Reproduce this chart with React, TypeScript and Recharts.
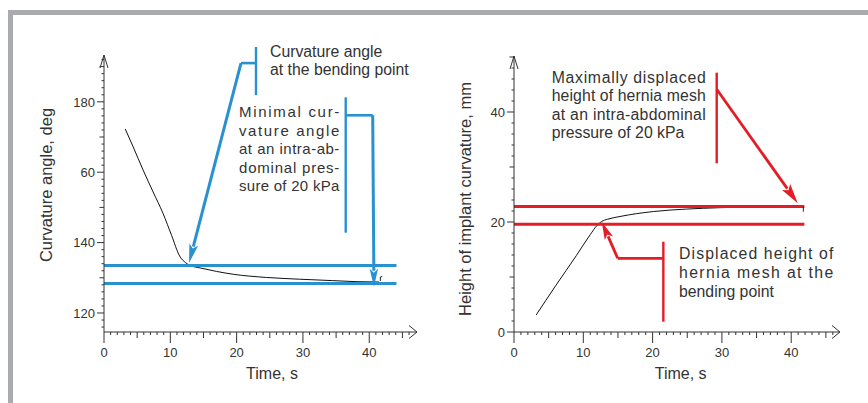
import React from 'react';
import { LineChart, Line, XAxis, YAxis, ReferenceLine, ReferenceDot, Label } from 'recharts';

// ---------- data ----------
const leftTime = [3.2, 4.4, 5.9, 7.4, 8.9, 10.2, 11.4, 12.3, 13, 14.5, 17, 19.5, 24.5, 29.5, 34.5, 38, 41.5];
const leftAngle = [172.3, 167.2, 160.6, 154.4, 148.3, 142, 136.2, 134.3, 133.5, 132.8, 131.8, 131, 130.1, 129.6, 129.2, 128.9, 128.8];
const rightTime = [3.2, 6, 9, 11, 12, 12.65, 13.5, 15.3, 20.1, 24.9, 29.7, 36.9, 41.8];
const rightHeight = [3.1, 8.4, 13.9, 17.7, 19.4, 20.1, 20.5, 21.0, 21.9, 22.35, 22.6, 22.8, 22.85];

const leftBands = [133.5, 128.4];
const leftBandEnd = 44.1;
const rightBands = [22.8, 19.6];
const rightBandEnd = 41.9;

const xTickValues = [0, 10, 20, 30, 40];
const xTickLabels = ['0', '10', '20', '30', '40'];
const leftYTickValues = [120, 140, 160, 180];
const leftYTickLabels = ['120', '140', '60', '180'];
const rightYTickValues = [0, 20, 40];
const rightYTickLabels = ['0', '20', '40'];

const leftTitleY = 'Curvature angle, deg';
const rightTitleY = 'Height of implant curvature, mm';
const titleX = 'Time, s';

const leftNote1 = ['Curvature angle', 'at the bending point'];
const leftNote2 = ['Minimal cur-', 'vature angle', 'at an intra-ab-', 'dominal pres-', 'sure of 20 kPa'];
const rightNote1 = ['Maximally displaced', 'height of hernia mesh', 'at an intra-abdominal', 'pressure of 20 kPa'];
const rightNote2 = ['Displaced height of', 'hernia mesh at the', 'bending point'];

// ---------- styles ----------
const BLUE = '#2a91d0';
const RED = '#e31d25';
const INK = '#333333';
const FONT = '"Liberation Sans", Arial, Helvetica, sans-serif';
const TICKFONT = '"Liberation Sans", Arial, sans-serif';

const leftXDomain: [number, number] = [0, 47.2];
const leftYDomain: [number, number] = [114.6, 193.3];
const rightXDomain: [number, number] = [0, 47.04];
const rightYDomain: [number, number] = [0, 50.18];

const range = (a: number, b: number, s: number) => {
  const out: number[] = [];
  for (let v = a; v <= b + 1e-9; v += s) out.push(Math.round(v * 100) / 100);
  return out;
};
const xMinorTicks = range(0, 46, 1);
const leftYMinorTicks = range(116, 192, 2);
const rightYMinorTicks = range(0, 50, 2);

const makeXTick = (values: number[], labels: string[]) => (props: any) => {
  const { x, y, payload } = props;
  const v = payload.value;
  const len = v % 10 === 0 ? 11 : v % 5 === 0 ? 6 : 3;
  const idx = values.indexOf(v);
  return (
    <g>
      <line x1={x} y1={y} x2={x} y2={y + len} stroke={INK} strokeWidth={1} />
      {idx >= 0 && (
        <text x={x} y={y + 25} textAnchor="middle" fontSize={13} fontFamily={TICKFONT} fill={INK}>
          {labels[idx]}
        </text>
      )}
    </g>
  );
};

const makeYTick = (values: number[], labels: string[], major: number, mid: number) => (props: any) => {
  const { x, y, payload } = props;
  const v = payload.value;
  const len = v % major === 0 ? 7 : v % mid === 0 ? 4.5 : 2.5;
  const idx = values.indexOf(v);
  return (
    <g>
      <line x1={x} y1={y} x2={x - len} y2={y} stroke={INK} strokeWidth={1} />
      {idx >= 0 && (
        <text x={x - 9} y={y + 4.7} textAnchor="end" fontSize={13} fontFamily={TICKFONT} fill={INK}>
          {labels[idx]}
        </text>
      )}
    </g>
  );
};

const arrowShape = (color: string, width: number, headLen: number, headHalf: number) => (p: any) => {
  const { x1, y1, x2, y2 } = p;
  const dx = x2 - x1;
  const dy = y2 - y1;
  const L = Math.hypot(dx, dy) || 1;
  const ux = dx / L;
  const uy = dy / L;
  const bx = x2 - ux * headLen;
  const by = y2 - uy * headLen;
  const px = -uy;
  const py = ux;
  return (
    <g>
      <line x1={x1} y1={y1} x2={bx + ux * 2} y2={by + uy * 2} stroke={color} strokeWidth={width} strokeLinecap="butt" />
      <polygon
        points={`${x2},${y2} ${bx + px * headHalf},${by + py * headHalf} ${bx + ux * 4},${by + uy * 4} ${bx - px * headHalf},${by - py * headHalf}`}
        fill={color}
      />
    </g>
  );
};

const lineShape = (color: string, width: number) => (p: any) => (
  <line x1={p.x1} y1={p.y1} x2={p.x2} y2={p.y2} stroke={color} strokeWidth={width} />
);

const upChevron = (p: any) => (
  <path d={`M${p.cx - 4},${p.cy + 13} L${p.cx},${p.cy} L${p.cx + 4},${p.cy + 13}`} fill="none" stroke={INK} strokeWidth={1} />
);
const rightChevron = (p: any) => (
  <path d={`M${p.cx - 8},${p.cy - 6.5} L${p.cx},${p.cy} L${p.cx - 8},${p.cy + 6.5}`} fill="none" stroke={INK} strokeWidth={1} />
);

const textShape = (lines: string[], justified: boolean[], width: number, size: number, lh: number) => (p: any) => (
  <g>
    {lines.map((s, i) => (
      <text
        key={i}
        x={p.cx}
        y={p.cy + i * lh}
        fontSize={size}
        fontFamily={FONT}
        fill={INK}
        {...(justified[i] ? { textLength: width, lengthAdjust: 'spacing' } : {})}
      >
        {s}
      </text>
    ))}
  </g>
);

const xTitle = (dx: number) => (p: any) => {
  const vb = p.viewBox;
  return (
    <text x={vb.x + vb.width / 2 + dx} y={vb.y + 46.5} textAnchor="middle" fontSize={16} fontFamily={FONT} fill={INK}>
      {titleX}
    </text>
  );
};
const yTitle = (text: string, bx: number, dy: number, size: number) => (p: any) => {
  const vb = p.viewBox;
  const cx = vb.x + bx;
  const cy = vb.y + vb.height / 2 + dy;
  return (
    <text x={cx} y={cy} transform={`rotate(-90, ${cx}, ${cy})`} textAnchor="middle" fontSize={size} fontFamily={FONT} fill={INK}>
      {text}
    </text>
  );
};

const leftData = leftTime.map((t, i) => ({ t, v: leftAngle[i] }));
const rightData = rightTime.map((t, i) => ({ t, v: rightHeight[i] }));

function LeftChart() {
  return (
    <LineChart width={434} height={403} data={leftData} margin={{ top: 55, right: 17, bottom: 41, left: 44 }}>
      <XAxis
        dataKey="t"
        type="number"
        domain={leftXDomain}
        allowDataOverflow
        ticks={xMinorTicks}
        interval={0}
        tickSize={0}
        tickMargin={0}
        tickLine={false}
        tick={makeXTick(xTickValues, xTickLabels)}
        axisLine={{ stroke: INK, strokeWidth: 1 }}
        height={30}
      >
        <Label content={xTitle(11.5)} />
      </XAxis>
      <YAxis
        type="number"
        domain={leftYDomain}
        allowDataOverflow
        ticks={leftYMinorTicks}
        interval={0}
        tickSize={0}
        tickMargin={0}
        tickLine={false}
        tick={makeYTick(leftYTickValues, leftYTickLabels, 20, 10)}
        axisLine={{ stroke: INK, strokeWidth: 1 }}
        width={60}
      >
        <Label content={yTitle(leftTitleY, 8, -8.5, 16.5)} />
      </YAxis>
      <Line dataKey="v" type="monotone" stroke="#111" strokeWidth={1} dot={false} isAnimationActive={false} />
      {leftBands.map((b, i) => (
        <ReferenceLine key={i} segment={[{ x: 0, y: b }, { x: leftBandEnd, y: b }]} ifOverflow="visible" shape={lineShape(BLUE, 3)} />
      ))}
      <ReferenceLine segment={[{ x: 41.67, y: 129.09 }, { x: 41.67, y: 130.23 }]} ifOverflow="visible" shape={lineShape('#222', 1)} />
      <ReferenceLine segment={[{ x: 41.67, y: 130.23 }, { x: 41.95, y: 130.35 }]} ifOverflow="visible" shape={lineShape('#222', 1)} />
      {/* callout 1 */}
      <ReferenceLine segment={[{ x: 22.92, y: 195.6 }, { x: 22.92, y: 181.9 }]} ifOverflow="visible" shape={lineShape(BLUE, 2.4)} />
      <ReferenceLine segment={[{ x: 20.66, y: 191.0 }, { x: 22.92, y: 191.0 }]} ifOverflow="visible" shape={lineShape(BLUE, 2.6)} />
      <ReferenceLine segment={[{ x: 20.66, y: 191.0 }, { x: 12.82, y: 134.2 }]} ifOverflow="visible" shape={arrowShape(BLUE, 3, 19, 4.5)} />
      {/* callout 2 */}
      <ReferenceLine segment={[{ x: 36.45, y: 181.28 }, { x: 36.45, y: 142.81 }]} ifOverflow="visible" shape={lineShape(BLUE, 2.4)} />
      <ReferenceLine segment={[{ x: 36.45, y: 176.17 }, { x: 40.52, y: 176.17 }]} ifOverflow="visible" shape={lineShape(BLUE, 2.6)} />
      <ReferenceLine segment={[{ x: 40.52, y: 176.17 }, { x: 40.71, y: 127.47 }]} ifOverflow="visible" shape={arrowShape(BLUE, 3, 18, 4.2)} />
      <ReferenceDot x={25.03} y={192.65} r={0} ifOverflow="visible" shape={textShape(leftNote1, [false, false], 0, 15.8, 17.7)} />
      <ReferenceDot
        x={20.36}
        y={175.6}
        r={0}
        ifOverflow="visible"
        shape={textShape(leftNote2, [true, true, true, true, true], 100.3, 15, 18.45)}
      />
      <ReferenceDot x={leftXDomain[0]} y={leftYDomain[1]} r={0} ifOverflow="visible" shape={upChevron} />
      <ReferenceDot x={leftXDomain[1]} y={leftYDomain[0]} r={0} ifOverflow="visible" shape={rightChevron} />
    </LineChart>
  );
}

function RightChart() {
  return (
    <LineChart width={434} height={403} data={rightData} margin={{ top: 56, right: 28, bottom: 41, left: 20 }}>
      <XAxis
        dataKey="t"
        type="number"
        domain={rightXDomain}
        allowDataOverflow
        ticks={xMinorTicks}
        interval={0}
        tickSize={0}
        tickMargin={0}
        tickLine={false}
        tick={makeXTick(xTickValues, xTickLabels)}
        axisLine={{ stroke: INK, strokeWidth: 1 }}
        height={30}
      >
        <Label content={xTitle(3.7)} />
      </XAxis>
      <YAxis
        type="number"
        domain={rightYDomain}
        allowDataOverflow
        ticks={rightYMinorTicks}
        interval={0}
        tickSize={0}
        tickMargin={0}
        tickLine={false}
        tick={makeYTick(rightYTickValues, rightYTickLabels, 20, 10)}
        axisLine={{ stroke: INK, strokeWidth: 1 }}
        width={60}
      >
        <Label content={yTitle(rightTitleY, 17, 5, 16.5)} />
      </YAxis>
      <Line dataKey="v" type="monotone" stroke="#111" strokeWidth={1} dot={false} isAnimationActive={false} />
      {rightBands.map((b, i) => (
        <ReferenceLine key={i} segment={[{ x: 0, y: b }, { x: rightBandEnd, y: b }]} ifOverflow="visible" shape={lineShape(RED, 3)} />
      ))}
      <ReferenceLine segment={[{ x: 41.75, y: 22.78 }, { x: 41.75, y: 21.87 }]} ifOverflow="visible" shape={lineShape('#222', 1)} />
      {/* callout 1 */}
      <ReferenceLine segment={[{ x: 29.25, y: 47.15 }, { x: 29.25, y: 30.67 }]} ifOverflow="visible" shape={lineShape(RED, 2.4)} />
      <ReferenceLine segment={[{ x: 29.25, y: 44.13 }, { x: 40.94, y: 23.4 }]} ifOverflow="visible" shape={arrowShape(RED, 2.8, 20, 5)} />
      {/* callout 2 */}
      <ReferenceLine segment={[{ x: 21.55, y: 16.42 }, { x: 21.55, y: 1.87 }]} ifOverflow="visible" shape={lineShape(RED, 2.4)} />
      <ReferenceLine segment={[{ x: 21.55, y: 13.4 }, { x: 14.96, y: 13.4 }]} ifOverflow="visible" shape={lineShape(RED, 2.8)} />
      <ReferenceLine segment={[{ x: 14.96, y: 13.4 }, { x: 12.66, y: 20.05 }]} ifOverflow="visible" shape={arrowShape(RED, 2.8, 18, 4.5)} />
      <ReferenceDot
        x={5.44}
        y={45.36}
        r={0}
        ifOverflow="visible"
        shape={textShape(rightNote1, [true, true, true, false], 154, 15.8, 18.5)}
      />
      <ReferenceDot
        x={23.81}
        y={13.27}
        r={0}
        ifOverflow="visible"
        shape={textShape(rightNote2, [true, true, false], 154.3, 15.8, 18.75)}
      />
      <ReferenceDot x={rightXDomain[0]} y={rightYDomain[1]} r={0} ifOverflow="visible" shape={upChevron} />
      <ReferenceDot x={rightXDomain[1]} y={rightYDomain[0]} r={0} ifOverflow="visible" shape={rightChevron} />
    </LineChart>
  );
}

export default function App() {
  return (
    <div style={{ position: 'absolute', left: 0, top: 0, width: 868, height: 403, background: '#fff', overflow: 'hidden' }}>
      <div style={{ position: 'absolute', left: 8, top: 10, width: 860, height: 5, background: '#a9abae' }} />
      <div style={{ position: 'absolute', left: 8, top: 10, width: 5, height: 393, background: '#a9abae' }} />
      <div style={{ position: 'absolute', left: 0, top: 0 }}>
        <LeftChart />
      </div>
      <div style={{ position: 'absolute', left: 434, top: 0 }}>
        <RightChart />
      </div>
    </div>
  );
}
